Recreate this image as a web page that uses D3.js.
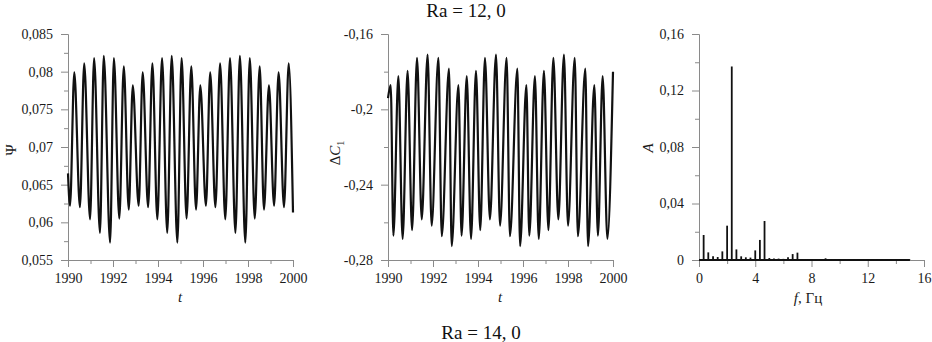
<!DOCTYPE html>
<html>
<head>
<meta charset="utf-8">
<script src="https://cdn.jsdelivr.net/npm/d3@7"></script>
<style>
  body { margin: 0; background: #fff; }
  svg { display: block; font-family: "Liberation Serif", "Times New Roman", serif; }
  .axis path, .axis line { stroke: #8a8a8a; stroke-width: 1; }
  .axis text { fill: #1a1a1a; font-size: 14px; font-family: "Liberation Serif", serif; }
</style>
</head>
<body>
<svg id="chart" width="932" height="342"></svg>
<script>
// --- data ---
// Psi(t): start, then alternating trough / peak, then end value
const psiT = [1990, 1990.09, 1990.28, 1990.53, 1990.72, 1990.98, 1991.16, 1991.42, 1991.59, 1991.87, 1992.04,
    1992.28, 1992.48, 1992.70, 1992.88, 1993.14, 1993.32, 1993.56, 1993.75, 1993.97, 1994.18, 1994.41, 1994.61,
    1994.86, 1995.05, 1995.27, 1995.48, 1995.69, 1995.88, 1996.13, 1996.32, 1996.55, 1996.76, 1996.99, 1997.20,
    1997.44, 1997.64, 1997.88, 1998.08, 1998.30, 1998.52, 1998.71, 1998.93, 1999.16, 1999.36, 1999.60, 1999.81, 2000];
const psiV = [0.0665, 0.0622, 0.0799, 0.0620, 0.0811, 0.0604, 0.0818, 0.0586, 0.0821, 0.0573, 0.0818,
    0.0605, 0.0807, 0.0617, 0.0782, 0.0622, 0.0799, 0.0620, 0.0811, 0.0604, 0.0818, 0.0586, 0.0821,
    0.0573, 0.0818, 0.0605, 0.0807, 0.0617, 0.0782, 0.0622, 0.0799, 0.0620, 0.0811, 0.0604, 0.0818,
    0.0586, 0.0821, 0.0573, 0.0818, 0.0605, 0.0807, 0.0617, 0.0782, 0.0622, 0.0799, 0.0620, 0.0811, 0.0613];

// dC1(t): start, then alternating peak / trough, then end value
const dcT = [1990, 1990.12, 1990.24, 1990.46, 1990.65, 1990.87, 1991.07, 1991.29, 1991.50, 1991.76, 1991.94,
    1992.24, 1992.39, 1992.71, 1992.83, 1993.13, 1993.27, 1993.50, 1993.69, 1993.91, 1994.10, 1994.31, 1994.53,
    1994.80, 1994.98, 1995.27, 1995.42, 1995.75, 1995.87, 1996.15, 1996.28, 1996.53, 1996.70, 1996.93, 1997.13,
    1997.35, 1997.57, 1997.82, 1998.00, 1998.30, 1998.44, 1998.77, 1998.89, 1999.17, 1999.33, 1999.54, 1999.75, 2000];
const dcV = [-0.194, -0.1871, -0.2671, -0.1823, -0.2688, -0.1795, -0.2641, -0.1727, -0.2584, -0.1710, -0.2618,
    -0.1726, -0.2674, -0.1784, -0.2726, -0.1871, -0.2671, -0.1823, -0.2688, -0.1795, -0.2641, -0.1727, -0.2584,
    -0.1710, -0.2618, -0.1726, -0.2674, -0.1784, -0.2726, -0.1871, -0.2671, -0.1823, -0.2688, -0.1795, -0.2641,
    -0.1727, -0.2584, -0.1710, -0.2618, -0.1726, -0.2674, -0.1784, -0.2726, -0.1871, -0.2671, -0.1823, -0.2688, -0.180];

// spectrum A(f)
const specF = [0.33, 0.66, 1.0, 1.33, 1.66, 2.0, 2.33, 2.66, 3.0, 3.33, 3.66, 4.0, 4.33, 4.66, 5.0,
    5.33, 5.66, 6.0, 6.33, 6.66, 7.0, 7.33, 7.66, 8.0, 8.33, 8.66, 9.0, 9.33, 9.66, 10.0,
    10.33, 10.66, 11.0, 11.33, 11.66, 12.0, 12.33, 12.66, 13.0, 13.33, 13.66, 14.0, 14.33, 14.66, 15.0];
const specA = [0.0177, 0.0054, 0.0026, 0.0021, 0.0061, 0.0243, 0.137, 0.0075, 0.0026, 0.0019, 0.0017, 0.0068, 0.0142, 0.0276, 0.0014,
    0.0010, 0.0010, 0.0008, 0.0019, 0.0042, 0.0052, 0.0006, 0.0005, 0.0004, 0.0004, 0.0004, 0.0012, 0.0007, 0.0003, 0.0003,
    0.0003, 0.0003, 0.0002, 0.0002, 0.0002, 0.0002, 0.0002, 0.0002, 0.0002, 0.0002, 0.0002, 0.0002, 0.0002, 0.0002, 0.0002];

// ticks
const yearTicks = [1990, 1992, 1994, 1996, 1998, 2000];
const yearMinor = [1991, 1993, 1995, 1997, 1999];
const psiTicks = [0.055, 0.06, 0.065, 0.07, 0.075, 0.08, 0.085];
const psiLabels = ["0,055", "0,06", "0,065", "0,07", "0,075", "0,08", "0,085"];
const psiMinor = [0.0575, 0.0625, 0.0675, 0.0725, 0.0775, 0.0825];
const dcTicks = [-0.28, -0.24, -0.2, -0.16];
const dcLabels = ["-0,28", "-0,24", "-0,2", "-0,16"];
const dcMinor = [-0.26, -0.22, -0.18];
const fTicks = [0, 4, 8, 12, 16];
const fMinor = [2, 6, 10, 14];
const aTicks = [0, 0.04, 0.08, 0.12, 0.16];
const aLabels = ["0", "0,04", "0,08", "0,12", "0,16"];
const aMinor = [0.02, 0.06, 0.10, 0.14];

const serif = "'Liberation Serif', 'Times New Roman', serif";
const svg = d3.select("#chart");
const plotTop = 34, plotBottom = 260;

function drawAxes(p) {
    const g = svg.append("g");
    const labelOf = (ticks, labels) => d => labels ? labels[ticks.indexOf(d)] : String(d);

    g.append("g").attr("class", "axis").attr("transform", `translate(0 ${plotBottom})`)
        .call(d3.axisBottom(p.x).tickValues(p.xMinor).tickSize(4).tickSizeOuter(0).tickFormat(""));
    g.append("g").attr("class", "axis").attr("transform", `translate(0 ${plotBottom})`)
        .call(d3.axisBottom(p.x).tickValues(p.xTicks).tickSize(7).tickSizeOuter(0).tickPadding(6)
            .tickFormat(labelOf(p.xTicks, p.xLabels)));
    g.append("g").attr("class", "axis").attr("transform", `translate(${p.x.range()[0]} 0)`)
        .call(d3.axisLeft(p.y).tickValues(p.yMinor).tickSize(4).tickSizeOuter(0).tickFormat(""));
    g.append("g").attr("class", "axis").attr("transform", `translate(${p.x.range()[0]} 0)`)
        .call(d3.axisLeft(p.y).tickValues(p.yTicks).tickSize(7).tickSizeOuter(0).tickPadding(8)
            .tickFormat(labelOf(p.yTicks, p.yLabels)));
    g.selectAll(".axis").attr("font-family", serif).attr("font-size", 14);
    return g;
}

// panel 1: Psi
const x1 = d3.scaleLinear().domain([1990, 2000]).range([68, 293]);
const y1 = d3.scaleLinear().domain([0.055, 0.085]).range([plotBottom, plotTop]);
drawAxes({ x: x1, y: y1, xTicks: yearTicks, xMinor: yearMinor, yTicks: psiTicks, yLabels: psiLabels, yMinor: psiMinor });
svg.append("path")
    .datum(psiT.map((t, i) => [t, psiV[i]]))
    .attr("fill", "none").attr("stroke", "#111").attr("stroke-width", 2.2)
    .attr("d", d3.line().x(d => x1(d[0])).y(d => y1(d[1])).curve(d3.curveMonotoneX));

// panel 2: dC1
const x2 = d3.scaleLinear().domain([1990, 2000]).range([388, 613]);
const y2 = d3.scaleLinear().domain([-0.28, -0.16]).range([plotBottom, plotTop]);
drawAxes({ x: x2, y: y2, xTicks: yearTicks, xMinor: yearMinor, yTicks: dcTicks, yLabels: dcLabels, yMinor: dcMinor });
svg.append("path")
    .datum(dcT.map((t, i) => [t, dcV[i]]))
    .attr("fill", "none").attr("stroke", "#111").attr("stroke-width", 2.2)
    .attr("d", d3.line().x(d => x2(d[0])).y(d => y2(d[1])).curve(d3.curveMonotoneX));

// panel 3: spectrum
const x3 = d3.scaleLinear().domain([0, 16]).range([699, 924]);
const y3 = d3.scaleLinear().domain([0, 0.16]).range([plotBottom, plotTop]);
drawAxes({ x: x3, y: y3, xTicks: fTicks, xMinor: fMinor, yTicks: aTicks, yLabels: aLabels, yMinor: aMinor });
svg.append("line")
    .attr("x1", x3(0)).attr("x2", x3(d3.max(specF)))
    .attr("y1", y3(0)).attr("y2", y3(0))
    .attr("stroke", "#111").attr("stroke-width", 2);
svg.append("g").selectAll("line").data(specF).join("line")
    .attr("x1", d => x3(d)).attr("x2", d => x3(d))
    .attr("y1", y3(0)).attr("y2", (d, i) => y3(specA[i]))
    .attr("stroke", "#111").attr("stroke-width", 1.8);

// axis titles
const lbl = svg.append("g").attr("fill", "#1a1a1a").attr("font-size", 15).attr("font-family", serif);
lbl.append("text").attr("x", 180).attr("y", 302).attr("text-anchor", "middle")
    .attr("font-style", "italic").text("t");
lbl.append("text").attr("x", 500).attr("y", 302).attr("text-anchor", "middle")
    .attr("font-style", "italic").text("t");
const fl = lbl.append("text").attr("x", 808).attr("y", 303).attr("text-anchor", "middle");
fl.append("tspan").attr("font-style", "italic").text("f");
fl.append("tspan").text(", Гц");

lbl.append("text").attr("transform", "translate(16 150) rotate(-90)").attr("text-anchor", "middle").text("Ψ");
const dl = lbl.append("text").attr("transform", "translate(340 153) rotate(-90)").attr("text-anchor", "middle");
dl.append("tspan").text("Δ");
dl.append("tspan").attr("font-style", "italic").text("C");
dl.append("tspan").attr("font-size", 10).attr("dy", 4).text("1");
lbl.append("text").attr("transform", "translate(653 148) rotate(-90)").attr("text-anchor", "middle")
    .attr("font-style", "italic").text("A");

// captions
svg.append("text").attr("x", 466).attr("y", 17).attr("text-anchor", "middle").attr("font-family", serif)
    .attr("font-size", 19).attr("fill", "#111").text("Ra = 12, 0");
svg.append("text").attr("x", 481).attr("y", 339).attr("text-anchor", "middle").attr("font-family", serif)
    .attr("font-size", 19).attr("fill", "#111").text("Ra = 14, 0");
</script>
</body>
</html>
